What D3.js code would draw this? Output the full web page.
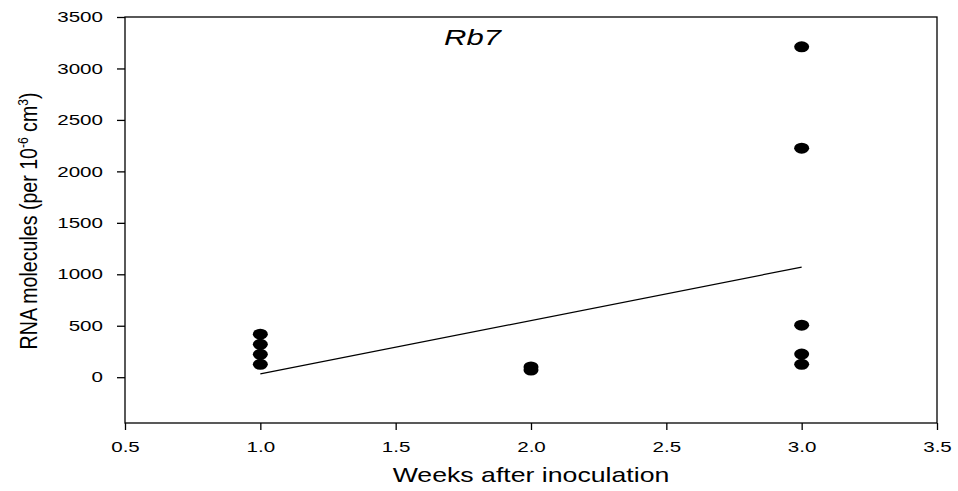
<!DOCTYPE html>
<html>
<head>
<meta charset="utf-8">
<script src="https://cdn.jsdelivr.net/npm/d3@7"></script>
<style>
body{margin:0;background:#fff;}
svg text{font-family:"Liberation Sans",Arial,sans-serif;}
</style>
</head>
<body>
<svg id="chart" width="958" height="491"></svg>
<script>
// data
var weeks = [1, 1, 1, 1, 2, 2, 3, 3, 3, 3, 3];
var molecules = [418, 320, 222, 125, 100, 70, 3210, 2225, 505, 225, 125];
var fitWeeks = [1, 3];
var fitValues = [32, 1070];
var xTicks = [0.5, 1.0, 1.5, 2.0, 2.5, 3.0, 3.5];
var yTicks = [0, 500, 1000, 1500, 2000, 2500, 3000, 3500];

var svg = d3.select('#chart');
var pLeft = 125, pRight = 937, pTop = 17, pBottom = 423;

var x = d3.scaleLinear().domain([0.5, 3.5]).range([pLeft, pRight]);
var y = d3.scaleLinear().domain([-445, 3500]).range([pBottom, pTop]);

// frame
svg.append('rect')
	.attr('x', pLeft).attr('y', pTop)
	.attr('width', pRight-pLeft).attr('height', pBottom-pTop)
	.attr('fill', 'none').attr('stroke', 'black').attr('stroke-width', 1.3);

var xAxis = svg.append('g')
	.attr('transform', 'translate(0,' + pBottom + ')')
	.call(d3.axisBottom(x).tickValues(xTicks).tickFormat(d3.format('.1f')).tickSize(7).tickPadding(12));

var yAxis = svg.append('g')
	.attr('transform', 'translate(' + pLeft + ',0)')
	.call(d3.axisLeft(y).tickValues(yTicks).tickFormat(d3.format('d')).tickSize(8).tickPadding(14));

// the original lettering is wide, so stretch it sideways
var stretch = 1.42;
[xAxis, yAxis].forEach(function(a){
	a.attr('font-size', 14.5).attr('font-family', '"Liberation Sans",Arial,sans-serif');
	a.select('.domain').remove();
	a.selectAll('line').attr('stroke', 'black').attr('stroke-width', 1.3);
	a.selectAll('text').attr('fill', 'black')
		.attr('transform', function(){
			var tx = +d3.select(this).attr('x') || 0;
			return 'translate(' + tx + ',0) scale(' + stretch + ',1)';
		})
		.attr('x', 0);
});

// regression line
svg.append('line')
	.attr('x1', x(fitWeeks[0])).attr('y1', y(fitValues[0]))
	.attr('x2', x(fitWeeks[1])).attr('y2', y(fitValues[1]))
	.attr('stroke', 'black').attr('stroke-width', 1.2);

// points
svg.selectAll('.pt').data(weeks).enter()
	.append('ellipse')
	.attr('class', 'pt')
	.attr('cx', function(d){ return x(d); })
	.attr('cy', function(d, i){ return y(molecules[i]); })
	.attr('rx', 7.5)
	.attr('ry', 5.5)
	.attr('fill', 'black');

// labels
svg.append('text')
	.attr('transform', 'translate(444,45) scale(1.41,1)')
	.attr('font-size', '22px').attr('font-style', 'italic')
	.text('Rb7');

svg.append('text')
	.attr('transform', 'translate(531,481.5) scale(1.27,1)')
	.attr('text-anchor', 'middle')
	.attr('font-size', '21px')
	.text('Weeks after inoculation');

var yt = svg.append('text')
	.attr('transform', 'translate(37,221) rotate(-90) scale(1,1.18)')
	.attr('text-anchor', 'middle')
	.attr('font-size', '19.6px');
yt.append('tspan').text('RNA molecules (per 10');
yt.append('tspan').attr('font-size', '12px').attr('dy', -8).text('-6');
yt.append('tspan').attr('dy', 8).text(' cm');
yt.append('tspan').attr('font-size', '12px').attr('dy', -8).text('3');
yt.append('tspan').attr('dy', 8).text(')');
</script>
</body>
</html>
